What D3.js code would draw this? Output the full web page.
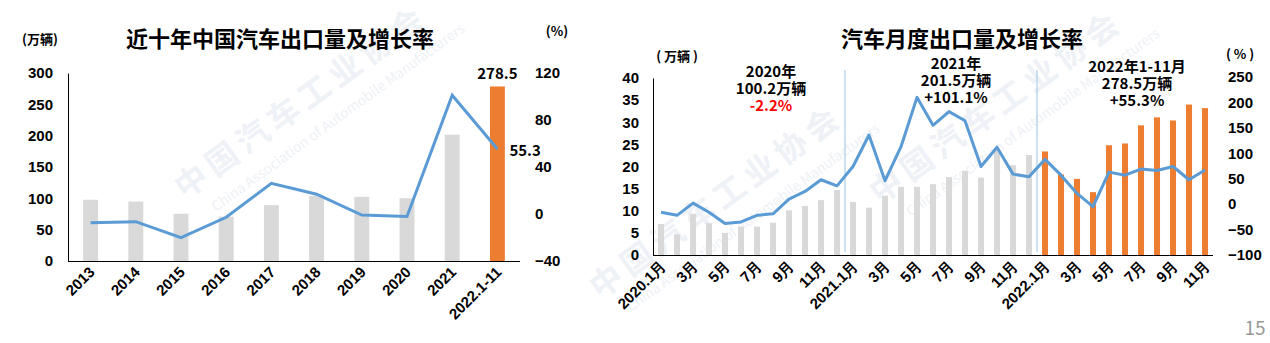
<!DOCTYPE html>
<html>
<head>
<meta charset="utf-8">
<script src="https://cdn.jsdelivr.net/npm/d3@7"></script>
<style>
  html, body { margin: 0; padding: 0; background: #fff; }
  svg { display: block; font-family: "Noto Sans CJK SC", "Noto Sans", sans-serif; }
</style>
</head>
<body>
<svg id="chart" width="1270" height="343"></svg>
<script>
// ---- Annual exports (万辆) and growth (%) ----
const years = ["2013", "2014", "2015", "2016", "2017", "2018", "2019", "2020", "2021", "2022.1-11"];
const yearVolume = [97.7, 94.8, 75.5, 70.8, 89.1, 104.1, 102.4, 100.2, 201.5, 278.5];
const yearGrowth = [-7.4, -6.5, -20.2, -2.8, 26.1, 16.8, -0.9, -2.2, 101.1, 55.3];
const yearLeftTicks = [0, 50, 100, 150, 200, 250, 300];
const yearRightTicks = [-40, 0, 40, 80, 120];

// ---- Monthly exports (万辆) and growth (%), 2020.1 – 2022.11 ----
const months = [
  "2020.1月", "2月", "3月", "4月", "5月", "6月", "7月", "8月", "9月", "10月", "11月", "12月",
  "2021.1月", "2月", "3月", "4月", "5月", "6月", "7月", "8月", "9月", "10月", "11月", "12月",
  "2022.1月", "2月", "3月", "4月", "5月", "6月", "7月", "8月", "9月", "10月", "11月"
];
const monthVolume = [
  7.0, 4.7, 9.3, 7.2, 5.0, 6.4, 6.4, 7.3, 10.1, 11.1, 12.4, 14.7,
  12.0, 10.7, 13.4, 15.4, 15.4, 16.0, 17.6, 19.0, 17.5, 23.9, 20.3, 22.6,
  23.4, 18.2, 17.2, 14.2, 24.8, 25.2, 29.3, 31.1, 30.4, 34.0, 33.2
];
const monthGrowth = [
  -16, -22, 2, -16, -38, -35, -22, -19, 10, 25, 48, 36,
  74, 136, 46, 113, 210, 155, 182, 164, 74, 112, 59, 54,
  88, 57, 21, -5, 63, 57, 69, 66, 74, 48, 67
];
const monthLeftTicks = [0, 5, 10, 15, 20, 25, 30, 35, 40];
const monthRightTicks = [-100, -50, 0, 50, 100, 150, 200, 250];

const GRAY = "#D9D9D9", ORANGE = "#ED7D31", BLUE = "#5B9BD5";
const svg = d3.select("#chart");

// faint association watermark
function watermark(x, y) {
  const g = svg.append("g").attr("transform", `translate(${x},${y}) rotate(-36)`)
    .attr("fill", "#eef1f6").attr("font-weight", 700);
  g.append("text").attr("font-size", 32).attr("letter-spacing", 6).text("中国汽车工业协会");
  g.append("text").attr("y", 28).attr("x", 18).attr("font-size", 14).attr("font-weight", 400)
    .text("China Association of Automobile Manufacturers");
}
watermark(185, 200);
watermark(600, 300);
watermark(880, 205);

function axisText(sel) {
  sel.attr("font-size", 15).attr("font-weight", 700).attr("fill", "#000");
}

// ================= Left chart: annual =================
{
  const x = d3.scaleBand().domain(years).range([68, 520]).paddingInner(0.67).paddingOuter(0.335);
  const yL = d3.scaleLinear().domain([0, 300]).range([261, 73]);
  const yR = d3.scaleLinear().domain([-40, 120]).range([261, 73]);

  svg.append("text").attr("x", 280).attr("y", 37).attr("text-anchor", "middle")
    .attr("dominant-baseline", "central").attr("font-size", 22).attr("font-weight", 700)
    .text("近十年中国汽车出口量及增长率");

  svg.append("g").selectAll("rect").data(years).join("rect")
    .attr("x", d => x(d)).attr("width", x.bandwidth())
    .attr("y", (d, i) => yL(yearVolume[i])).attr("height", (d, i) => yL(0) - yL(yearVolume[i]))
    .attr("fill", (d, i) => i === years.length - 1 ? ORANGE : GRAY);

  const leftAxis = svg.append("g").attr("transform", "translate(68,0)")
    .call(d3.axisLeft(yL).tickValues(yearLeftTicks).tickSize(0).tickPadding(15));
  leftAxis.select(".domain").attr("stroke", "#000");
  leftAxis.selectAll("text").call(axisText).attr("font-family", null);

  const rightAxis = svg.append("g").attr("transform", "translate(520,0)")
    .call(d3.axisRight(yR).tickValues(yearRightTicks).tickSize(0).tickPadding(15));
  rightAxis.select(".domain").remove();
  rightAxis.selectAll("text").call(axisText).attr("font-family", null);

  const bottom = svg.append("g").attr("transform", "translate(0,261)")
    .call(d3.axisBottom(x).tickSize(0).tickPadding(0));
  bottom.select(".domain").attr("stroke", "#000").attr("d", "M68,0.5H520");
  bottom.selectAll("text").call(axisText).attr("font-family", null)
    .attr("text-anchor", "end").attr("dy", null).attr("y", 0)
    .attr("transform", "translate(5,12) rotate(-45)");

  const line = d3.line().x((d, i) => x(years[i]) + x.bandwidth() / 2).y(d => yR(d));
  svg.append("path").datum(yearGrowth).attr("d", line)
    .attr("fill", "none").attr("stroke", BLUE).attr("stroke-width", 3);

  const last = years.length - 1;
  svg.append("text").attr("x", x(years[last]) + x.bandwidth() / 2).attr("y", yL(yearVolume[last]) - 14)
    .attr("text-anchor", "middle").attr("dominant-baseline", "central")
    .attr("font-size", 15).attr("font-weight", 700).text(yearVolume[last].toFixed(1));
  svg.append("text").attr("x", x(years[last]) + x.bandwidth() / 2 + 12).attr("y", yR(yearGrowth[last]))
    .attr("dominant-baseline", "central")
    .attr("font-size", 15).attr("font-weight", 700).text(yearGrowth[last].toFixed(1));

  svg.append("text").attr("x", 40).attr("y", 38).attr("text-anchor", "middle")
    .attr("dominant-baseline", "central").attr("font-size", 13).attr("font-weight", 700).text("(万辆)");
  svg.append("text").attr("x", 557).attr("y", 30).attr("text-anchor", "middle")
    .attr("dominant-baseline", "central").attr("font-size", 13).attr("font-weight", 700).text("(%)");
}

// ================= Right chart: monthly =================
{
  const x = d3.scaleBand().domain(months.map((m, i) => i)).range([653, 1213]).paddingInner(0.62).paddingOuter(0.31);
  const yL = d3.scaleLinear().domain([0, 40]).range([255, 78]);
  const yR = d3.scaleLinear().domain([-100, 250]).range([255, 77]);
  const cx = i => x(i) + x.bandwidth() / 2;

  svg.append("text").attr("x", 962).attr("y", 37).attr("text-anchor", "middle")
    .attr("dominant-baseline", "central").attr("font-size", 22).attr("font-weight", 700)
    .text("汽车月度出口量及增长率");

  svg.append("g").selectAll("rect").data(monthVolume).join("rect")
    .attr("x", (d, i) => x(i)).attr("width", x.bandwidth())
    .attr("y", d => yL(d)).attr("height", d => yL(0) - yL(d))
    .attr("fill", (d, i) => i >= 24 ? ORANGE : GRAY);

  // year separators
  [12, 24].forEach(i => {
    const sx = (cx(i - 1) + cx(i)) / 2;
    svg.append("line").attr("x1", sx).attr("x2", sx).attr("y1", 70).attr("y2", 252)
      .attr("stroke", "#9DC3E6").attr("stroke-width", 1);
  });

  const leftAxis = svg.append("g").attr("transform", "translate(653,0)")
    .call(d3.axisLeft(yL).tickValues(monthLeftTicks).tickSize(0).tickPadding(14));
  leftAxis.select(".domain").attr("stroke", "#000");
  leftAxis.selectAll("text").call(axisText).attr("font-family", null);

  const rightAxis = svg.append("g").attr("transform", "translate(1213,0)")
    .call(d3.axisRight(yR).tickValues(monthRightTicks).tickSize(0).tickPadding(15));
  rightAxis.select(".domain").remove();
  rightAxis.selectAll("text").call(axisText).attr("font-family", null);

  const bottom = svg.append("g").attr("transform", "translate(0,255)")
    .call(d3.axisBottom(x).tickValues(months.map((m, i) => i).filter(i => i % 2 === 0))
      .tickFormat(i => months[i]).tickSize(0).tickPadding(0));
  bottom.select(".domain").attr("stroke", "#000").attr("d", "M653,0.5H1213");
  bottom.selectAll("text").call(axisText).attr("font-family", null)
    .attr("text-anchor", "end").attr("dy", null).attr("y", 0)
    .attr("transform", "translate(6,12) rotate(-45)");

  const line = d3.line().x((d, i) => cx(i)).y(d => yR(d));
  svg.append("path").datum(monthGrowth).attr("d", line)
    .attr("fill", "none").attr("stroke", BLUE).attr("stroke-width", 3).attr("stroke-linejoin", "round");

  svg.append("text").attr("x", 677).attr("y", 55).attr("text-anchor", "middle")
    .attr("dominant-baseline", "central").attr("font-size", 13).attr("font-weight", 700).text("( 万辆 )");
  svg.append("text").attr("x", 1240).attr("y", 53).attr("text-anchor", "middle")
    .attr("dominant-baseline", "central").attr("font-size", 13).attr("font-weight", 700).text("( % )");

  // yearly summary notes, one text block each
  const notes = [
    { x: 771, y: 77, lines: [["2020年", "#000"], ["100.2万辆", "#000"], ["-2.2%", "#FF0000"]] },
    { x: 956, y: 69, lines: [["2021年", "#000"], ["201.5万辆", "#000"], ["+101.1%", "#000"]] },
    { x: 1137, y: 72, lines: [["2022年1-11月", "#000"], ["278.5万辆", "#000"], ["+55.3%", "#000"]] }
  ];
  notes.forEach(n => {
    const t = svg.append("text").attr("x", n.x).attr("y", n.y).attr("text-anchor", "middle")
      .attr("font-size", 15).attr("font-weight", 700);
    n.lines.forEach(([s, c], k) => {
      t.append("tspan").attr("x", n.x).attr("dy", k === 0 ? 0 : 16.8).attr("fill", c).text(s);
    });
  });
}

// page number
svg.append("text").attr("x", 1255).attr("y", 326).attr("text-anchor", "middle")
  .attr("dominant-baseline", "central").attr("font-size", 19).attr("fill", "#999").text("15");
</script>
</body>
</html>
